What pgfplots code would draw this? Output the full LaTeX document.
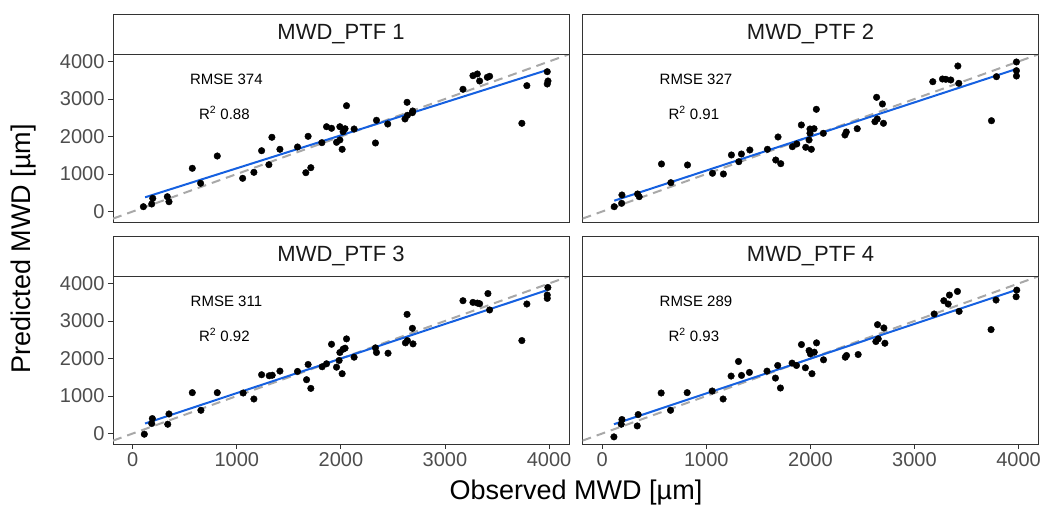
\documentclass[border=0pt]{standalone}
\usepackage{pgfplots}
\pgfplotsset{compat=1.18}
\usepackage{pgfplotstable}
\usepackage{fontspec}
\setmainfont{Liberation Sans}

\definecolor{gtwenty}{HTML}{333333}
\definecolor{gthirty}{HTML}{4D4D4D}
\definecolor{fitblue}{HTML}{1560E0}
\definecolor{refgray}{HTML}{A8A8A8}

% observed vs predicted, one table per PTF
\pgfplotstableread{
obs pred
102 128
182 200
192 352
332 395
348 261
572 1152
652 752
812 1480
1056 885
1164 1045
1238 1621
1308 1248
1337 1979
1414 1659
1583 1720
1663 1035
1711 1168
1685 2005
1817 1835
1862 2261
1910 2219
1958 1845
1990 1907
1990 2261
2012 1659
2021 2128
2040 2208
2054 2821
2127 2200
2332 1827
2342 2432
2450 2333
2616 2467
2636 2912
2639 2565
2687 2635
2690 2680
3173 3259
3269 3621
3311 3667
3333 3480
3407 3579
3429 3605
3739 2352
3787 3355
3983 3728
3990 3480
3983 3400
}\ptfone

\pgfplotstableread{
obs pred
115 128
186 218
189 440
339 467
355 395
569 1267
659 768
819 1240
1059 1019
1164 1000
1241 1507
1312 1328
1337 1533
1418 1640
1587 1659
1667 1373
1715 1275
1689 1987
1827 1728
1869 1800
1913 2307
1955 1712
1987 1907
1996 2200
2009 1659
2035 2208
1996 2088
2057 2725
2124 2085
2332 2040
2345 2120
2450 2208
2620 2395
2636 3045
2642 2467
2692 2867
2702 2352
3176 3461
3269 3533
3301 3525
3349 3507
3417 3880
3426 3418
3740 2421
3788 3595
3980 3987
3980 3755
3980 3613
}\ptftwo

\pgfplotstableread{
obs pred
111 -19
182 266
188 398
336 247
348 521
572 1089
655 619
812 1089
1061 1080
1164 920
1238 1567
1311 1540
1340 1554
1414 1664
1583 1655
1670 1434
1711 1203
1685 1841
1820 1780
1862 1859
1910 2380
1958 1769
1983 1947
1990 2160
2012 1594
2021 2248
2040 2275
2054 2523
2127 2035
2332 2284
2342 2160
2453 2141
2620 2417
2636 3177
2639 2478
2687 2805
2693 2390
3173 3541
3269 3496
3311 3478
3333 3461
3413 3732
3429 3294
3739 2478
3787 3453
3989 3894
3983 3692
3983 3603
}\ptfthree

\pgfplotstableread{
obs pred
112 -90
182 247
189 372
336 202
345 505
566 1080
656 619
816 1089
1056 1133
1161 920
1238 1532
1309 1921
1338 1549
1414 1629
1583 1664
1664 1478
1712 1213
1686 1814
1824 1877
1866 1814
1914 2372
1952 1753
1987 2212
2000 2124
2015 1594
2037 2168
2059 2417
2126 1965
2335 2035
2347 2080
2459 2106
2629 2452
2645 2903
2652 2523
2706 2815
2716 2407
3189 3187
3282 3541
3324 3452
3336 3692
3413 3788
3429 3257
3736 2771
3784 3559
3983 3824
3977 3647
}\ptffour

\pgfplotsset{
  mwd/.style={
    scale only axis,
    width=456pt, height=168pt,
    anchor=south west,
    xmin=-190, xmax=4192,
    ymin=-280, ymax=4200,
    xtick={0,1000,2000,3000,4000},
    ytick={0,1000,2000,3000,4000},
    xtick pos=bottom, ytick pos=left,
    tick align=outside,
    major tick length=5pt,
    axis line style={gtwenty, line width=0.9pt},
    tick style={gtwenty, line width=0.9pt},
    tick label style={font=\fontsize{20}{20}\selectfont, text=gthirty},
    /pgf/number format/assume math mode=true,
    /pgf/number format/1000 sep={},
  },
  pts/.style={only marks, mark=*, mark size=3.3pt, black},
  refline/.style={refgray, line width=2pt, dash pattern=on 9pt off 6pt},
  fitline/.style={fitblue, line width=2pt},
}
\tikzset{stat/.style={font=\fontsize{15}{15}\selectfont}}

\newcommand{\strip}[2]{%
  \draw[gtwenty, line width=0.9pt, fill=white] (#1.north west) rectangle ([yshift=40pt]#1.north east);
  \node[font=\fontsize{22}{22}\selectfont, text=black!90] at ([yshift=20pt]#1.north) {#2};
}

\begin{document}
\begin{tikzpicture}[x=1pt, y=1pt]
\useasboundingbox (0,0) rectangle (1046,508);

% top left
\begin{axis}[mwd, name=p1, at={(113pt,286pt)}, xtick=\empty]
\addplot[refline] coordinates {(-190,-190) (4200,4200)};
\addplot[pts] table[x=obs, y=pred] {\ptfone};
\addplot[fitline] coordinates {(118,378) (3983,3773)};
\node[stat] at (axis cs:900,3533) {RMSE 374};
\node[stat] at (axis cs:880,2627) {R\textsuperscript{2} 0.88};
\end{axis}

% top right
\begin{axis}[mwd, name=p2, at={(582.5pt,286pt)}, xtick=\empty, ytick=\empty]
\addplot[refline] coordinates {(-190,-190) (4200,4200)};
\addplot[pts] table[x=obs, y=pred] {\ptftwo};
\addplot[fitline] coordinates {(115,288) (3980,3800)};
\node[stat] at (axis cs:900,3533) {RMSE 327};
\node[stat] at (axis cs:880,2627) {R\textsuperscript{2} 0.91};
\end{axis}

% bottom left
\begin{axis}[mwd, name=p3, at={(113pt,64pt)}]
\addplot[refline] coordinates {(-190,-190) (4200,4200)};
\addplot[pts] table[x=obs, y=pred] {\ptfthree};
\addplot[fitline] coordinates {(118,266) (3983,3824)};
\node[stat] at (axis cs:900,3533) {RMSE 311};
\node[stat] at (axis cs:880,2627) {R\textsuperscript{2} 0.92};
\end{axis}

% bottom right
\begin{axis}[mwd, name=p4, at={(582.5pt,64pt)}, ytick=\empty]
\addplot[refline] coordinates {(-190,-190) (4200,4200)};
\addplot[pts] table[x=obs, y=pred] {\ptffour};
\addplot[fitline] coordinates {(112,247) (3983,3832)};
\node[stat] at (axis cs:900,3533) {RMSE 289};
\node[stat] at (axis cs:880,2627) {R\textsuperscript{2} 0.93};
\end{axis}

\strip{p1}{MWD\_PTF 1}
\strip{p2}{MWD\_PTF 2}
\strip{p3}{MWD\_PTF 3}
\strip{p4}{MWD\_PTF 4}

\node[font=\fontsize{27}{27}\selectfont, rotate=90] at (24,259) {Predicted MWD [µm]};
\node[font=\fontsize{27}{27}\selectfont] at (576,15) {Observed MWD [µm]};
\end{tikzpicture}
\end{document}
